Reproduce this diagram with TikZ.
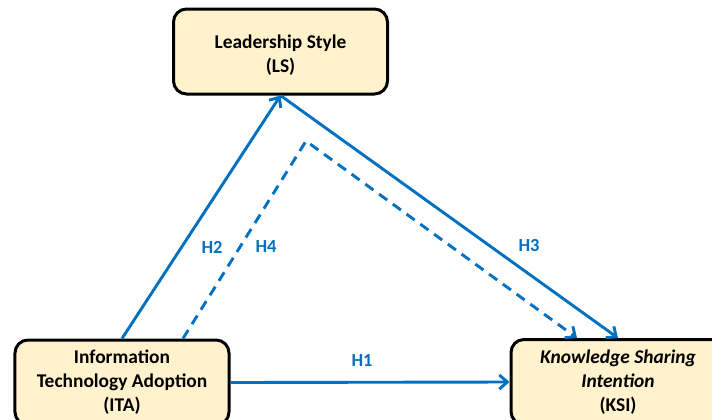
\documentclass[tikz,border=0pt]{standalone}
\usepackage{fontspec}
\setmainfont{Carlito}
\usetikzlibrary{arrows.meta,calc}
\definecolor{boxfill}{RGB}{255,242,204}
\definecolor{hblue}{RGB}{0,112,192}
\tikzset{
  box/.style={draw=black, line width=3bp, fill=boxfill, rounded corners=13bp,
    minimum width=214bp, minimum height=85bp, align=center, inner sep=0pt,
    font=\fontsize{19.5}{24}\selectfont\bfseries},
  boxtext/.style={align=center, inner sep=0pt, font=\fontsize{19.5}{24}\selectfont\bfseries},
  link/.style={draw=hblue, line width=2.9bp, -{Straight Barb[length=8bp,width=14bp,line width=2.9bp]}},
  dlink/.style={link, dash pattern=on 10bp off 7bp},
  hlab/.style={text=hblue, font=\fontsize{18.5}{22}\selectfont\bfseries, inner sep=0pt}
}
\begin{document}
\begin{tikzpicture}[x=1bp,y=-1bp]
\useasboundingbox (0,0) rectangle (712,419);
\node[box] (LS) at (280.5,51.5) {};
\node[boxtext] (LStext) at (280.5,55) {Leadership Style\\(LS)};
\node[box] (ITA) at (122,382.5) {Information\\Technology Adoption\\(ITA)};
\node[box] (KSI) at (618,382) {\textit{Knowledge Sharing}\\\textit{Intention}\\(KSI)};
\coordinate (D0) at ($(ITA.north)+(61,0)$);
\coordinate (DC) at (306,141);
\coordinate (D1) at ($(KSI.north)+(-41,0)$);
\draw[link] (ITA.north) -- (LS.south);
\draw[link] (LS.south) -- (KSI.north);
\draw[link] (ITA.east) -- (KSI.west);
\draw[dlink] (D0) -- (DC) -- (D1);
\node[hlab] (H2) at (212,247) {H2};
\node[hlab] (H4) at (266,247) {H4};
\node[hlab] (H3) at (529,246) {H3};
\node[hlab] (H1) at (362,361) {H1};
\end{tikzpicture}
\end{document}
